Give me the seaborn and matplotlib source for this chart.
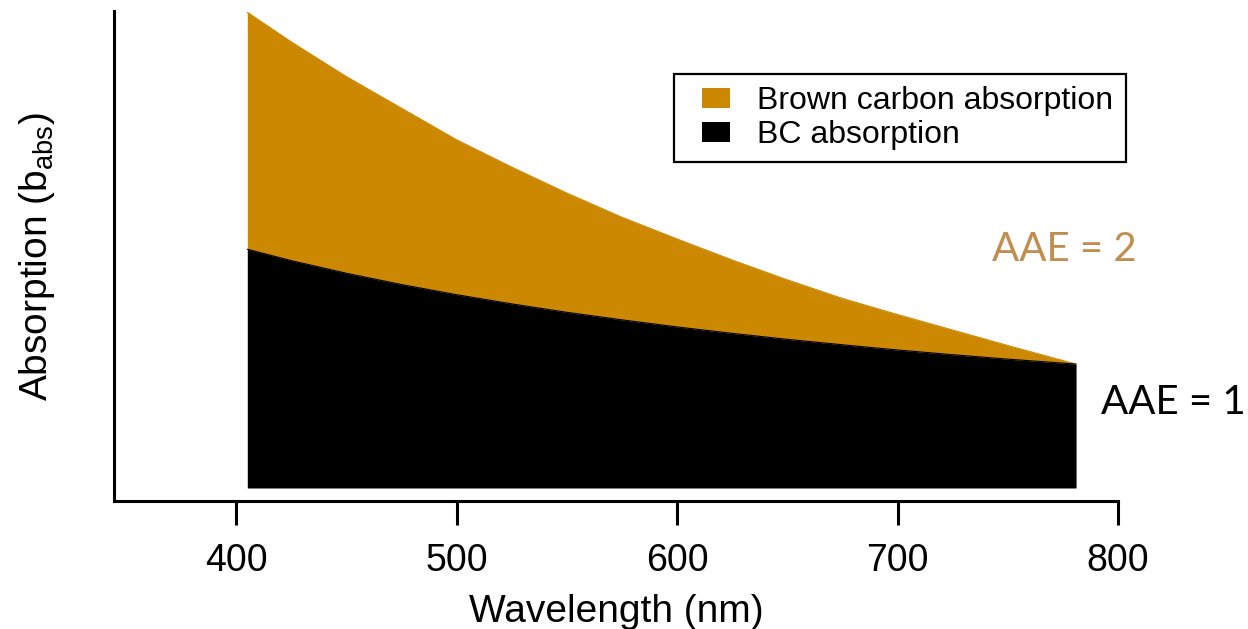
import matplotlib
matplotlib.use("Agg")
import matplotlib.pyplot as plt
import seaborn as sns
import pandas as pd
from matplotlib.patches import Patch, Rectangle
from matplotlib.legend_handler import HandlerPatch

# Absorption spectra (arbitrary units) at sampled wavelengths
wavelength_nm = [405, 425, 450, 475, 500, 525, 550, 575, 600,
                 625, 650, 675, 700, 725, 750, 781]
total_abs = [3.84, 3.60, 3.32, 3.065, 2.81, 2.59, 2.38, 2.185, 2.01,
             1.84, 1.68, 1.53, 1.40, 1.275, 1.15, 1.00]      # BC + brown carbon
bc_abs = [1.927, 1.835, 1.733, 1.642, 1.56, 1.486, 1.418, 1.357, 1.30,
          1.248, 1.20, 1.156, 1.114, 1.076, 1.04, 1.00]     # black carbon only

series_labels = ["Brown carbon absorption", "BC absorption"]
aae_labels = ["AAE = 2", "AAE = 1"]
x_ticks = [400, 500, 600, 700, 800]

brown = "#CC8800"
brown_text = "#C28E50"

sns.set_style("ticks")
plt.rcParams["font.family"] = ["Liberation Sans", "DejaVu Sans"]
plt.rcParams["text.color"] = "black"
plt.rcParams["axes.labelcolor"] = "black"
plt.rcParams["mathtext.fontset"] = "custom"
plt.rcParams["mathtext.rm"] = "Liberation Sans"
plt.rcParams["mathtext.it"] = "Liberation Sans:italic"

df = pd.DataFrame({"wavelength": wavelength_nm, "total": total_abs, "bc": bc_abs})

W, H = 1248, 629
fig = plt.figure(figsize=(W / 100, H / 100), dpi=100)
ax = fig.add_axes([0.0913, 0.2035, 0.8045, 0.779])

ax.fill_between(df["wavelength"], df["bc"], df["total"], color=brown, lw=0)
ax.fill_between(df["wavelength"], 0, df["bc"], color="black", lw=0)
sns.lineplot(data=df, x="wavelength", y="total", ax=ax, color=brown, lw=0.8)
sns.lineplot(data=df, x="wavelength", y="bc", ax=ax, color="black", lw=0.8)

ax.set_xlim(344.5, 800)
ax.set_ylim(-0.105, 3.85)
ax.set_xticks(x_ticks)
ax.set_yticks([])
sns.despine(ax=ax)
for s in ("left", "bottom"):
    ax.spines[s].set_linewidth(2.2)
    ax.spines[s].set_color("black")
ax.tick_params(axis="x", length=17, width=2.2, pad=13, labelsize=27,
               colors="black", labelcolor="black")

ax.set_xlabel("Wavelength (nm)", fontsize=28, labelpad=11)
ax.set_ylabel("Absorption (b$_{\\mathrm{abs}}$)", fontsize=28, labelpad=41)


def right_aligned_square(legend, orig_handle, xdescent, ydescent, width, height, fontsize):
    # colour swatch sits at the right end of the handle slot
    w = 0.875 * fontsize
    return Rectangle((-xdescent + width - w, -ydescent), w, height)


handles = [Patch(facecolor=brown, edgecolor="none"), Patch(facecolor="black", edgecolor="none")]
leg = ax.legend(handles, series_labels, loc="upper left",
                bbox_to_anchor=(674 / W, 1 - 74 / H), bbox_transform=fig.transFigure,
                fontsize=23, frameon=True, fancybox=False, edgecolor="black",
                framealpha=1, handlelength=1.38, handleheight=0.6, handletextpad=0.85,
                labelspacing=0.13, borderpad=0.38, borderaxespad=0,
                handler_map={Patch: HandlerPatch(patch_func=right_aligned_square)})
leg.get_frame().set_linewidth(1.6)
for t in leg.get_texts():
    t.set_color("black")

fig.text(1064 / W, 1 - 250 / H, aae_labels[0], fontsize=29, color=brown_text,
         family="Lato", ha="center", va="center")
fig.text(1173 / W, 1 - 402 / H, aae_labels[1], fontsize=29, color="black",
         family="Lato", ha="center", va="center")

fig.savefig("out.png", dpi=100)
